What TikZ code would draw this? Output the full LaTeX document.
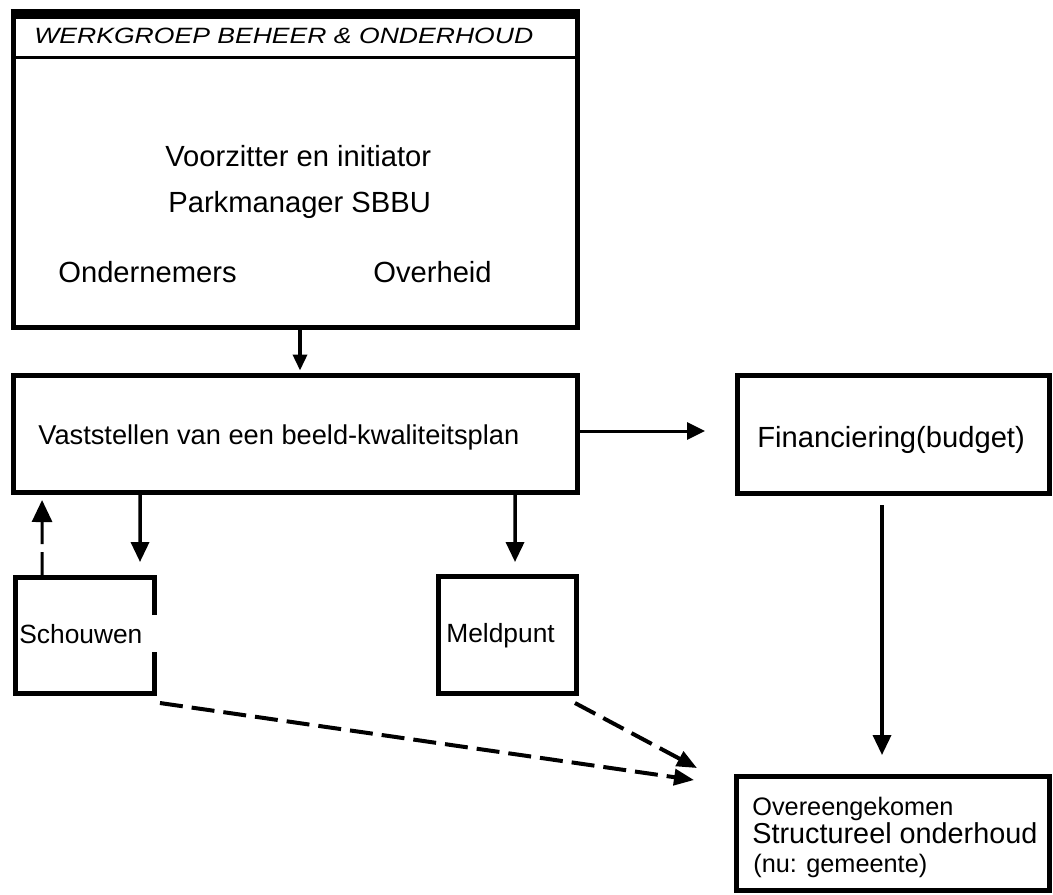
\documentclass[tikz,border=0pt]{standalone}
\usepackage{fontspec}
\setmainfont{Liberation Sans}
\newfontfamily\hdrfont[FakeStretch=1.2]{Liberation Sans}
\usetikzlibrary{arrows.meta,calc}
\begin{document}
\begin{tikzpicture}[x=0.02cm,y=-0.02cm,
  bw/.style={line width=0.1cm, line join=miter},
  box/.style={draw, bw, inner sep=0, outer sep=0, rectangle},
  hole/.style={inner sep=0, outer sep=0, rectangle},
  txt/.style={anchor=base west, inner sep=0},
  big/.style={font=\fontsize{16.6pt}{18pt}\selectfont},
  arr/.style={line width=0.07cm, -{Triangle[length=0.4cm,width=0.36cm]}},
  dsh/.style={line width=0.08cm, dash pattern=on 0.46cm off 0.18cm, -{Triangle[length=0.4cm,width=0.32cm]}}]
\useasboundingbox (0,0) rectangle (1053,894);
\fill[white] (0,0) rectangle (1053,894);
% boxes
\node[box, minimum width=11.3cm, minimum height=6.32cm] (top) at (295.5,170) {};
\node[box, minimum width=11.3cm, minimum height=2.34cm] (box2) at (295.5,433.5) {};
\node[box, minimum width=6.26cm, minimum height=2.36cm] (fin) at (893.5,434) {};
\node[box, minimum width=6.28cm, minimum height=2.28cm] (ovr) at (893,833) {};
\node[hole, minimum width=2.8cm, minimum height=2.32cm] (sch) at (85,635) {};
\node[box, minimum width=2.78cm, minimum height=2.34cm] (mel) at (507.5,634.5) {};
% top box details
\draw[line width=0.2cm] ($(top.north west)+(-2.5,2)$) -- ($(top.north east)+(2.5,2)$);
\draw[line width=0.06cm] ($(top.north west)+(0,45)$) -- ($(top.north east)+(0,45)$);
% schouwen box with open right side
\draw[bw] ($(sch.north east)+(0,38)$) -- (sch.north east) -- (sch.north west)
  -- (sch.south west) -- (sch.south east) -- ($(sch.south east)+(0,-41)$);
% texts
\node[txt, font=\hdrfont\itshape\fontsize{12.6pt}{14pt}\selectfont] (hdr) at (34,43) {WERKGROEP BEHEER \& ONDERHOUD};
\node[txt, big] (t1) at (165,166) {Voorzitter en initiator};
\node[txt, big] (t2) at (168,212) {Parkmanager SBBU};
\node[txt, big] (t3) at (58,282) {Ondernemers};
\node[txt, big] (t4) at (373,282) {Overheid};
\node[txt, font=\fontsize{15.5pt}{16pt}\selectfont] (t5) at (38,444) {Vaststellen van een beeld-kwaliteitsplan};
\node[txt, big] (t6) at (757,447) {Financiering(budget)};
\node[txt, font=\fontsize{15pt}{16pt}\selectfont] (t7) at (19,643) {Schouwen};
\node[txt, font=\fontsize{15pt}{16pt}\selectfont] (t8) at (446,642) {Meldpunt};
\node[txt, font=\fontsize{14.4pt}{16pt}\selectfont] (t9) at (752,815) {Overeengekomen};
\node[txt, font=\fontsize{16.4pt}{18pt}\selectfont] (t10) at (752,843) {Structureel onderhoud};
\node[txt, font=\fontsize{14.4pt}{16pt}\selectfont] (t11) at (753,872) {(nu: gemeente)};
% connectors
\draw[line width=0.07cm, -{Triangle[length=0.32cm,width=0.28cm]}, shorten >=0.04cm]
  ($(top.south)+(4.5,2.5)$) -- ($(box2.north)+(4.5,-2.5)$);
\draw[arr] ($(box2.south west)+(127,2.5)$) -- ($(sch.north)+(55,-15)$);
\draw[arr] ($(box2.south west)+(502,2.5)$) -- ($(mel.north)+(7.5,-14)$);
\draw[line width=0.06cm, -{Triangle[length=0.36cm,width=0.34cm]}]
  ($(box2.east)+(2.5,-2.5)$) -- ($(fin.west)+(-32,-3)$);
\draw[arr] ($(fin.south)+(-11.5,12)$) -- ($(ovr.north)+(-11,-21)$);
\draw[line width=0.06cm, dash pattern=on 0.5cm off 0.16cm, -{Triangle[length=0.44cm,width=0.4cm]}]
  ($(sch.north west)+(27,0)$) -- ($(box2.south west)+(29,8)$);
\draw[dsh] ($(sch.south east)+(5,10)$) -- ($(ovr.north west)+(-42,4)$);
\draw[dsh] ($(mel.south east)+(-2,10)$) -- ($(ovr.north west)+(-39,-8)$);
\end{tikzpicture}
\end{document}
